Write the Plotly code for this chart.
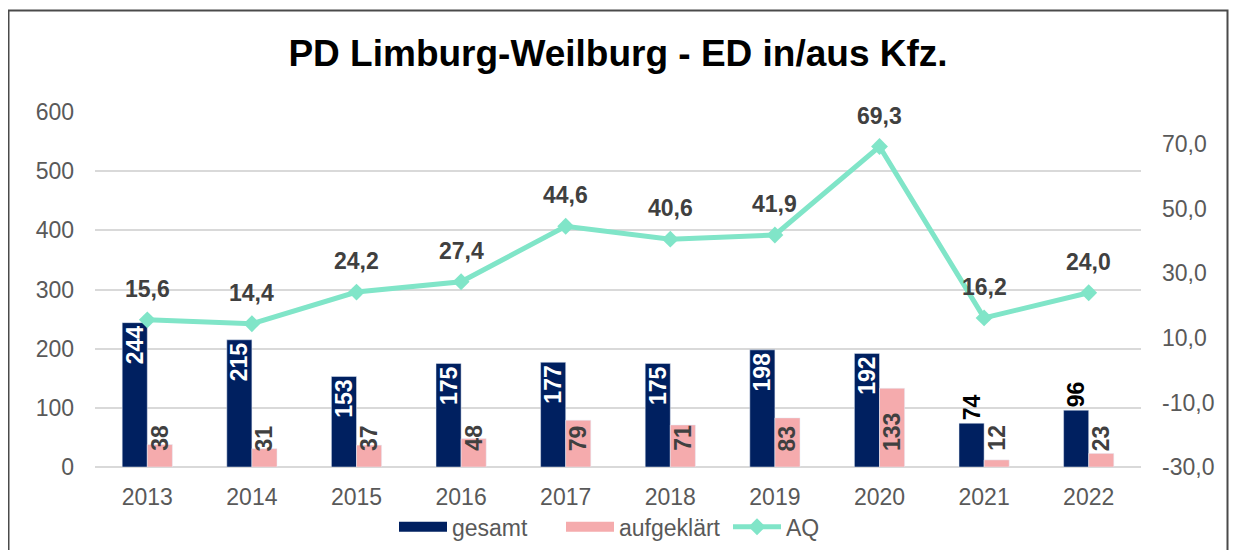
import plotly.graph_objects as go

years = ["2013", "2014", "2015", "2016", "2017", "2018", "2019", "2020", "2021", "2022"]
gesamt = [244, 215, 153, 175, 177, 175, 198, 192, 74, 96]
aufgeklaert = [38, 31, 37, 48, 79, 71, 83, 133, 12, 23]
aq = [15.6, 14.4, 24.2, 27.4, 44.6, 40.6, 41.9, 69.3, 16.2, 24.0]
y2_ticks = [-30, -10, 10, 30, 50, 70]

# page places the figure at (8, 8); keep it inside the window
W, H = 1221, 542
ML, MR, MT, MB = 87, 88, 104, 83
BARGAP = 0.52
FONT = "Liberation Sans, Arial, sans-serif"
GRAY = "#595959"
LABEL = "#404040"
C_G, C_A, C_Q = "#002060", "#F5ABAD", "#80E5C8"

plot_w = W - ML - MR
plot_h = H - MT - MB
cat_w = plot_w / len(years)
bar_w = cat_w * (1 - BARGAP) / 2

def de(v):
    return f"{v:.1f}".replace(".", ",")

g_pos = ["inside" if v > 120 else "outside" for v in gesamt]

fig = go.Figure()
fig.add_trace(go.Bar(
    x=years, y=gesamt, name="gesamt", marker_color=C_G, showlegend=False,
    text=[str(v) for v in gesamt], textposition=g_pos, textangle=-90,
    insidetextanchor="end",
    insidetextfont=dict(color="white", size=23, family=FONT, weight="bold"),
    outsidetextfont=dict(color="black", size=23, family=FONT, weight="bold"),
    cliponaxis=False,
))
fig.add_trace(go.Bar(
    x=years, y=aufgeklaert, name="aufgeklärt", marker_color=C_A, showlegend=False,
))
fig.add_trace(go.Scatter(
    x=years, y=aq, name="AQ", yaxis="y2", mode="lines+markers",
    line=dict(color=C_Q, width=5), showlegend=False,
    marker=dict(symbol="diamond", size=13, color=C_Q),
    cliponaxis=False,
))
# legend entries
fig.add_trace(go.Scatter(x=[None], y=[None], name="gesamt", mode="lines",
                         line=dict(color=C_G, width=13)))
fig.add_trace(go.Scatter(x=[None], y=[None], name="aufgeklärt", mode="lines",
                         line=dict(color=C_A, width=13)))
fig.add_trace(go.Scatter(x=[None], y=[None], name="AQ", mode="lines+markers",
                         line=dict(color=C_Q, width=5),
                         marker=dict(symbol="diamond", size=13, color=C_Q)))

annotations = []
for i, v in enumerate(aufgeklaert):
    annotations.append(dict(
        x=i, y=0, xref="x", yref="y", text=str(v), showarrow=False,
        textangle=-90, xshift=bar_w / 2, yshift=14, yanchor="bottom",
        font=dict(size=23, family=FONT, color=LABEL, weight="bold"),
    ))
for i, v in enumerate(aq):
    annotations.append(dict(
        x=i, y=v, xref="x", yref="y2", text=de(v),
        showarrow=False, yshift=31, yanchor="middle",
        font=dict(size=23, family=FONT, color=LABEL, weight="bold"),
    ))

def px_x(p):
    return (p - ML) / plot_w
def px_y(p):
    return (H - MB - p) / plot_h

fig.update_layout(
    width=W, height=H,
    margin=dict(l=ML, r=MR, t=MT, b=MB, autoexpand=False),
    paper_bgcolor="white", plot_bgcolor="white",
    font=dict(family=FONT, size=23, color=GRAY),
    title=dict(text="<b>PD Limburg-Weilburg - ED in/aus Kfz.</b>",
               x=0.5, xref="paper", y=1 - 45 / H, yanchor="middle",
               font=dict(size=37, color="black", family=FONT)),
    barmode="group", bargap=BARGAP, bargroupgap=0,
    uniformtext=dict(minsize=23, mode="show"),
    xaxis=dict(type="category", showgrid=False, showline=False,
               range=[-0.5, len(years) - 0.5],
               tickfont=dict(size=23, color=GRAY), ticklabelstandoff=14),
    yaxis=dict(range=[0, 600], dtick=100, showgrid=True, gridcolor="#D9D9D9",
               gridwidth=1.5, zeroline=True, zerolinecolor="#D9D9D9", zerolinewidth=1.5,
               tickfont=dict(size=23, color=GRAY), ticklabelstandoff=20),
    yaxis2=dict(overlaying="y", side="right", range=[-30, 80],
                tickvals=y2_ticks, ticktext=[de(t) for t in y2_ticks],
                showgrid=False, zeroline=False,
                tickfont=dict(size=23, color=GRAY), ticklabelstandoff=20),
    legend=dict(orientation="h", x=px_x(386), xanchor="left", y=-0.108, yanchor="top",
                font=dict(size=23, color=GRAY), traceorder="normal",
                bgcolor="rgba(0,0,0,0)", itemwidth=48, entrywidth=104),
    annotations=annotations,
    shapes=[dict(type="rect", xref="paper", yref="paper",
                 x0=px_x(0.5), x1=px_x(W - 1.5), y0=px_y(H + 20), y1=px_y(2.5),
                 line=dict(color="#4A4A4A", width=2), layer="below")],
)

fig.write_html("out.html")
